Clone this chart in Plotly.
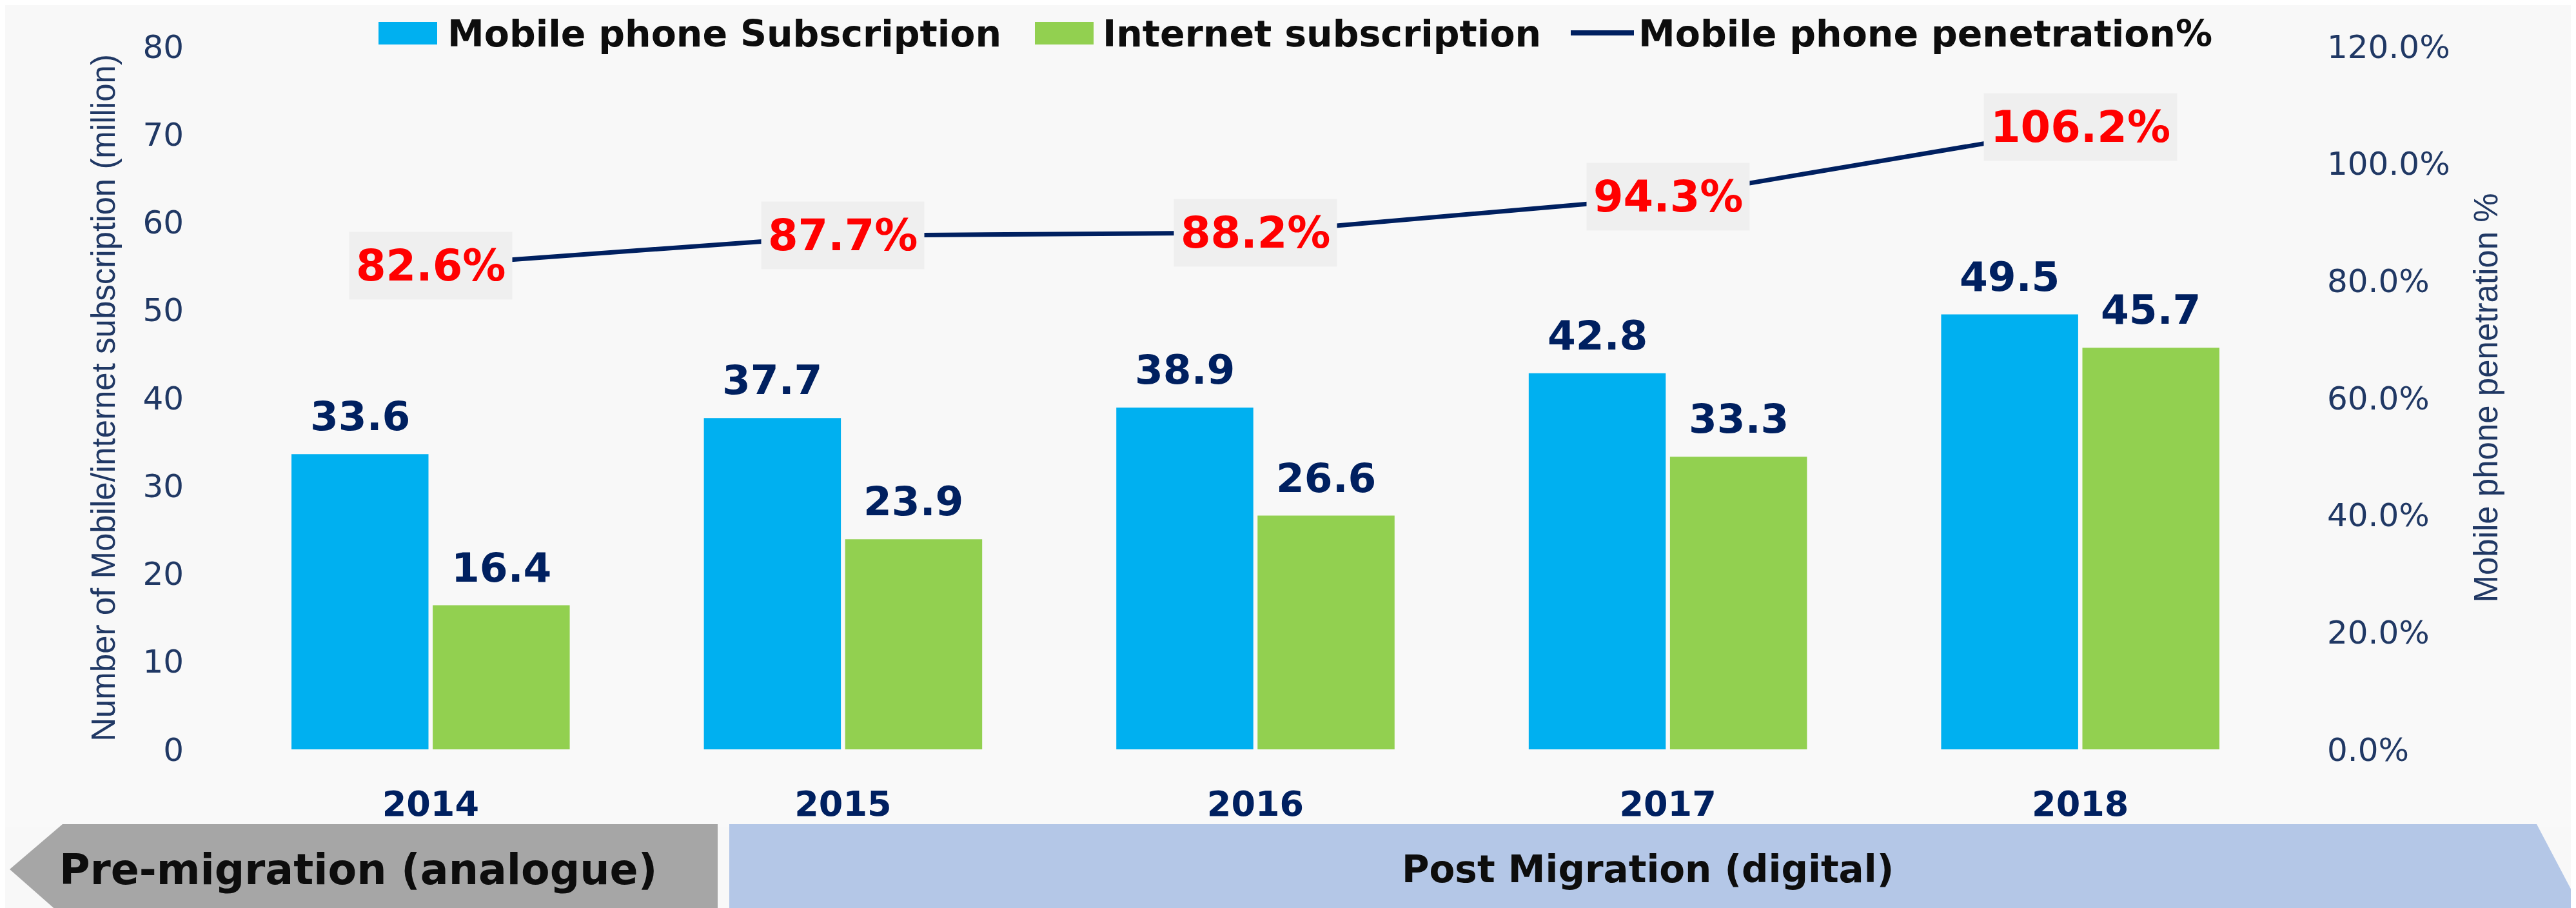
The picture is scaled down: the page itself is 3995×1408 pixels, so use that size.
import plotly.graph_objects as go

# ---------------- data ----------------
years = ["2014", "2015", "2016", "2017", "2018"]
mobile_subs = [33.6, 37.7, 38.9, 42.8, 49.5]
internet_subs = [16.4, 23.9, 26.6, 33.3, 45.7]
penetration = [82.6, 87.7, 88.2, 94.3, 106.2]
left_ticks = [0, 10, 20, 30, 40, 50, 60, 70, 80]
right_ticks = [0, 20, 40, 60, 80, 100, 120]
series_names = ["Mobile phone Subscription", "Internet subscription", "Mobile phone penetration%"]
phase_labels = ["Pre-migration (analogue)", "Post Migration (digital)"]

# ---------------- layout constants ----------------
W, H = 3995, 1408
ML, MR, MT, MB = 340, 457, 64, 254
PW, PH = W - ML - MR, H - MT - MB
BARGAP, GROUPGAP = 0.315, 0.03

BLUE, GREEN, NAVY, RED = "#00b0f0", "#92d050", "#002060", "#ff0000"
AXIS_C = "#203864"


def px(x):
    return (x - ML) / PW


def py(y):
    return (H - MB - y) / PH


fig = go.Figure()
fig.add_bar(x=years, y=mobile_subs, name=series_names[0], marker=dict(color=BLUE, line=dict(width=0)))
fig.add_bar(x=years, y=internet_subs, name=series_names[1], marker=dict(color=GREEN, line=dict(width=0)))
fig.add_scatter(x=years, y=penetration, name=series_names[2], yaxis="y2", mode="lines",
                line=dict(color=NAVY, width=7))

annotations = []
slot = PW / len(years) * (1 - BARGAP) / 2
bar_font = dict(family="DejaVu Sans", size=63, color=NAVY, weight="bold")
# category positions given by index on the category axis
for i, v in enumerate(mobile_subs):
    annotations.append(dict(x=i, y=v, xref="x", yref="y", text=f"{v:.1f}", showarrow=False,
                            xshift=-slot / 2, yanchor="bottom", yshift=20, font=bar_font))
for i, v in enumerate(internet_subs):
    annotations.append(dict(x=i, y=v, xref="x", yref="y", text=f"{v:.1f}", showarrow=False,
                            xshift=slot / 2, yanchor="bottom", yshift=20, font=bar_font))
for i, v in enumerate(penetration):
    annotations.append(dict(x=i, y=v, xref="x", yref="y2", text=f"{v:.1f}%", showarrow=False,
                            bgcolor="#efefef", height=84, borderpad=10,
                            font=dict(family="DejaVu Sans", size=67, color=RED, weight="bold")))

# manual legend (large symbols)
leg_font = dict(family="DejaVu Sans", size=57, color="#0d0d0d", weight="bold")
for xl, txt in zip([684, 1700, 2531], series_names):
    annotations.append(dict(x=px(xl), y=py(44), xref="paper", yref="paper", text=txt, showarrow=False,
                            xanchor="left", yanchor="middle", font=leg_font))

# phase labels in arrows
annotations.append(dict(x=px(547), y=py(1340), xref="paper", yref="paper", text=phase_labels[0],
                        showarrow=False, xanchor="center", yanchor="middle",
                        font=dict(family="DejaVu Sans", size=65, color="#0d0d0d", weight="bold")))
annotations.append(dict(x=px(2547), y=py(1340), xref="paper", yref="paper", text=phase_labels[1],
                        showarrow=False, xanchor="center", yanchor="middle",
                        font=dict(family="DejaVu Sans", size=58, color="#0d0d0d", weight="bold")))


def path(points):
    return "M " + " L ".join(f"{px(a):.5f},{py(b):.5f}" for a, b in points) + " Z"


# soft white fade toward the bottom of the chart area
shapes = []
for k in range(8):
    shapes.append(dict(type="rect", xref="paper", yref="paper", x0=px(0), x1=px(W),
                       y0=py(1275), y1=py(1000 + k * 20), fillcolor="#ffffff", opacity=0.14,
                       line=dict(width=0), layer="below"))
shapes += [
    dict(type="path", xref="paper", yref="paper",
         path=path([(7, 1340), (89, 1270), (1105, 1270), (1105, 1420), (98, 1420)]),
         fillcolor="#a6a6a6", line=dict(width=0), layer="below"),
    dict(type="path", xref="paper", yref="paper",
         path=path([(1123, 1270), (3926, 1270), (4005, 1420), (1123, 1420)]),
         fillcolor="#b4c7e7", line=dict(width=0), layer="below"),
    dict(type="rect", xref="paper", yref="paper", x0=px(579), x1=px(670), y0=py(61), y1=py(26),
         fillcolor=BLUE, line=dict(width=0)),
    dict(type="rect", xref="paper", yref="paper", x0=px(1597), x1=px(1688), y0=py(61), y1=py(26),
         fillcolor=GREEN, line=dict(width=0)),
    dict(type="line", xref="paper", yref="paper", x0=px(2428), x1=px(2526), y0=py(43), y1=py(43),
         line=dict(color=NAVY, width=8)),
]

fig.update_layout(
    width=W, height=H,
    margin=dict(l=ML, r=MR, t=MT, b=MB, pad=0),
    paper_bgcolor="#f8f8f8", plot_bgcolor="rgba(0,0,0,0)",
    barmode="group", bargap=BARGAP, bargroupgap=GROUPGAP,
    showlegend=False,
    annotations=annotations, shapes=shapes,
    xaxis=dict(type="category", range=[-0.5, 4.5], showgrid=False, showline=False, zeroline=False,
               ticks="", ticklabelstandoff=48,
               tickfont=dict(family="DejaVu Sans", size=54, color=NAVY, weight="bold")),
    yaxis=dict(range=[0, 80], tickvals=left_ticks, showgrid=False, zeroline=False, showline=False,
               ticks="", ticklabelstandoff=62,
               tickfont=dict(family="DejaVu Sans", size=50, color=AXIS_C),
               title=dict(text="Number of Mobile/internet subscription (million)", standoff=26,
                          font=dict(family="Liberation Sans", size=51, color=AXIS_C))),
    yaxis2=dict(range=[0, 120], overlaying="y", side="right", tickvals=right_ticks,
                ticktext=[f"{t:.1f}%" for t in right_ticks], showgrid=False, zeroline=False,
                showline=False, ticks="", ticklabelstandoff=62,
                tickfont=dict(family="DejaVu Sans", size=50, color=AXIS_C),
                title=dict(text="Mobile phone penetration %", standoff=38,
                           font=dict(family="Liberation Sans", size=51, color=AXIS_C))),
)

fig.write_html("out.html")
